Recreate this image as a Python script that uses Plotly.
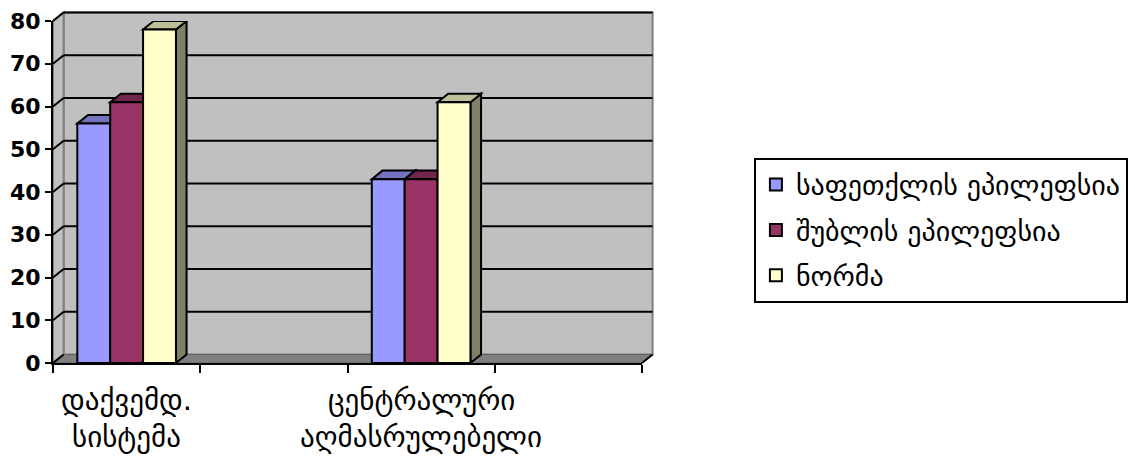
import plotly.graph_objects as go

# Categories (two empty slots keep the spacing of the original sheet)
categories = ["დაქვემდ. სისტემა", "", "ცენტრალური აღმასრულებელი", ""]
series_names = ["საფეთქლის ეპილეფსია", "შუბლის ეპილეფსია", "ნორმა"]
temporal = [56, None, 43, None]
frontal = [61, None, 43, None]
norm = [78, None, 61, None]
y_ticks = [0, 10, 20, 30, 40, 50, 60, 70, 80]

series_values = [temporal, frontal, norm]
front_colors = ["#9999FF", "#993366", "#FFFFCC"]
top_colors = ["#7373BF", "#73264D", "#BFBF99"]
side_colors = ["#4D4D80", "#4D1A33", "#808066"]

Y_MAX = y_ticks[-1]
X_MIN, X_MAX = -0.5, len(categories) - 0.5
GROUP_WIDTH = 0.67
DEPTH_X = 0.018   # depth offset as a fraction of the plot width
DEPTH_Y = 0.025   # depth offset as a fraction of the plot height
FONT = "DejaVu Sans"

x_pos = list(range(len(categories)))
fig = go.Figure()
for name, vals, col in zip(series_names, series_values, front_colors):
    fig.add_trace(go.Bar(
        x=x_pos, y=vals, name=name, legendgroup=name,
        marker=dict(color=col, line=dict(color="black", width=2)),
    ))

shapes = []
dom = dict(xref="x domain", yref="y domain")

def dpath(pts):
    return "M " + " L ".join(f"{a},{b}" for a, b in pts) + " Z"

# back wall
shapes.append(dict(type="rect", **dom, x0=DEPTH_X, x1=1 + DEPTH_X, y0=DEPTH_Y, y1=1 + DEPTH_Y,
                   fillcolor="#C0C0C0", line=dict(color="#808080", width=2), layer="below"))
# side wall
shapes.append(dict(type="path", **dom,
                   path=dpath([(0, 0), (DEPTH_X, DEPTH_Y), (DEPTH_X, 1 + DEPTH_Y), (0, 1)]),
                   fillcolor="#C0C0C0", line=dict(color="#808080", width=2), layer="below"))
# floor
shapes.append(dict(type="path", **dom,
                   path=dpath([(0, 0), (1, 0), (1 + DEPTH_X, DEPTH_Y), (DEPTH_X, DEPTH_Y)]),
                   fillcolor="#808080", line=dict(color="#606060", width=1), layer="below"))
shapes.append(dict(type="line", **dom, x0=1, y0=0, x1=1 + DEPTH_X, y1=DEPTH_Y,
                   line=dict(color="black", width=2), layer="below"))
# gridlines on the walls
for v in y_ticks[1:]:
    f = v / Y_MAX
    shapes.append(dict(type="line", **dom, x0=DEPTH_X, x1=1 + DEPTH_X, y0=f + DEPTH_Y, y1=f + DEPTH_Y,
                       line=dict(color="black", width=2), layer="below"))
for v in y_ticks:
    f = v / Y_MAX
    shapes.append(dict(type="line", **dom, x0=0, x1=DEPTH_X, y0=f, y1=f + DEPTH_Y,
                       line=dict(color="black", width=2), layer="below"))

# top and side faces of each bar, in data coordinates
n = len(series_values)
bar_w = GROUP_WIDTH / n
ddx = DEPTH_X * (X_MAX - X_MIN)
ddy = DEPTH_Y * Y_MAX
for ci in range(len(categories)):
    for si in range(n):
        v = series_values[si][ci]
        if v is None:
            continue
        xl = ci - GROUP_WIDTH / 2 + si * bar_w
        xr = xl + bar_w
        shapes.append(dict(type="path", xref="x", yref="y",
                           path=dpath([(xr, 0), (xr + ddx, ddy), (xr + ddx, v + ddy), (xr, v)]),
                           fillcolor=side_colors[si], line=dict(color="black", width=2), layer="below"))
        shapes.append(dict(type="path", xref="x", yref="y",
                           path=dpath([(xl, v), (xl + ddx, v + ddy), (xr + ddx, v + ddy), (xr, v)]),
                           fillcolor=top_colors[si], line=dict(color="black", width=2), layer="below"))

# category labels under the axis
annotations = []
for ci, label in enumerate(categories):
    for li, line in enumerate(label.split(" ") if label else []):
        annotations.append(dict(x=ci, xref="x", y=0, yref="paper", yanchor="middle",
                                yshift=-37 - 37 * li, text=line, showarrow=False,
                                font=dict(family=FONT, size=29, color="black")))

fig.update_layout(
    width=1135, height=458,
    margin=dict(l=53, r=493, t=21, b=95, autoexpand=False),
    paper_bgcolor="white", plot_bgcolor="white",
    barmode="group", bargap=1 - GROUP_WIDTH, bargroupgap=0,
    shapes=shapes, annotations=annotations,
    xaxis=dict(range=[X_MIN, X_MAX], showgrid=False, zeroline=False,
               showline=True, linecolor="black", linewidth=2,
               tickmode="array", tickvals=[i - 0.5 for i in range(len(categories) + 1)],
               ticktext=["" for _ in range(len(categories) + 1)],
               ticks="outside", ticklen=8, tickwidth=2, tickcolor="black"),
    yaxis=dict(range=[0, Y_MAX], showgrid=False, zeroline=False,
               showline=True, linecolor="black", linewidth=2,
               tickmode="array", tickvals=y_ticks,
               ticks="outside", ticklen=6, tickwidth=2, tickcolor="black",
               tickfont=dict(family=FONT, size=22, color="black", weight="bold")),
    legend=dict(x=1.19, y=0.6, xanchor="left", yanchor="top",
                bordercolor="black", borderwidth=2, bgcolor="white",
                font=dict(family=FONT, size=28, color="black"),
                tracegroupgap=6, traceorder="grouped"),
    showlegend=True,
)

fig.write_html("out.html")
